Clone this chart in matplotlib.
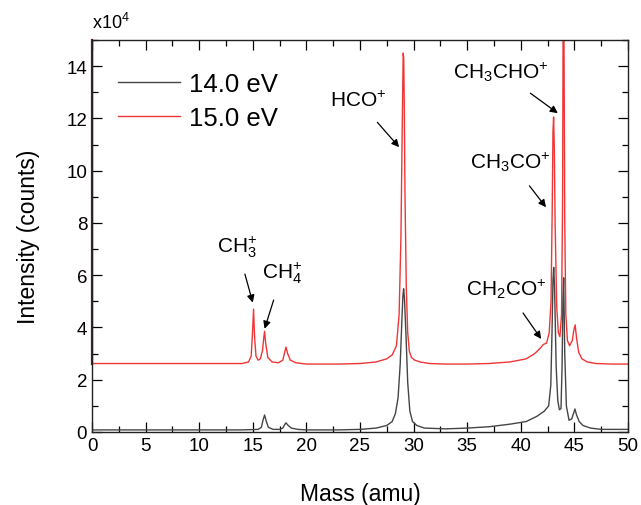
import matplotlib
matplotlib.use("Agg")
import matplotlib.pyplot as plt
from matplotlib.ticker import MultipleLocator

plt.rcParams['font.family'] = ['Liberation Sans', 'DejaVu Sans']
plt.rcParams['mathtext.fontset'] = 'custom'
plt.rcParams['mathtext.rm'] = 'Liberation Sans'
plt.rcParams['mathtext.it'] = 'Liberation Sans'
plt.rcParams['mathtext.bf'] = 'Liberation Sans'

# ---- data (intensity in units of 1e4 counts) ----
mass_14 = [0, 5, 10, 14, 15.5, 15.8, 15.95, 16.1, 16.25, 16.45,
           16.9, 17.5, 17.8, 18.0, 18.1, 18.3, 18.6, 19.2, 20, 23,
           25, 26.5, 27.5, 28.0, 28.3, 28.55, 28.75, 28.9, 29.0, 29.07,
           29.15, 29.3, 29.45, 29.65, 29.9, 30.3, 31, 33, 35, 37,
           39, 40.5, 41.5, 42.2, 42.6, 42.8, 42.92, 43.0, 43.07, 43.15,
           43.3, 43.45, 43.6, 43.75, 43.85, 43.93, 44.0, 44.1, 44.25, 44.5,
           44.75, 44.95, 45.05, 45.2, 45.45, 45.8, 46.5, 47.5, 50]
int_14 = [0.08, 0.08, 0.08, 0.08, 0.10, 0.18, 0.45, 0.65, 0.42, 0.18,
          0.10, 0.10, 0.15, 0.30, 0.35, 0.25, 0.15, 0.10, 0.08, 0.08,
          0.10, 0.15, 0.25, 0.40, 0.70, 1.30, 2.60, 4.20, 5.20, 5.48,
          5.10, 3.60, 1.90, 0.80, 0.40, 0.25, 0.15, 0.12, 0.15, 0.20,
          0.30, 0.40, 0.60, 0.80, 1.00, 1.80, 4.00, 5.80, 6.30, 5.50,
          2.50, 1.20, 0.85, 0.90, 2.50, 5.00, 5.90, 3.00, 1.00, 0.45,
          0.50, 0.75, 0.88, 0.65, 0.40, 0.25, 0.15, 0.10, 0.10]

mass_15 = [0, 5, 10, 14, 14.6, 14.85, 14.97, 15.07, 15.17, 15.3,
           15.5, 15.7, 15.9, 16.02, 16.1, 16.2, 16.4, 16.8, 17.4, 17.8,
           18.0, 18.1, 18.25, 18.5, 19.0, 20, 23, 25, 26.5, 27.5,
           28.0, 28.4, 28.65, 28.82, 28.95, 29.03, 29.08, 29.13, 29.2, 29.32,
           29.45, 29.6, 29.8, 30.1, 30.6, 31.5, 33, 35, 37, 39,
           40.5, 41.3, 41.8, 42.1, 42.4, 42.65, 42.82, 42.93, 43.0, 43.06,
           43.12, 43.2, 43.35, 43.5, 43.65, 43.8, 43.9, 43.95, 44.02, 44.1,
           44.2, 44.35, 44.55, 44.8, 44.95, 45.07, 45.2, 45.4, 45.7, 46.2,
           47, 48.5, 50]
int_15 = [2.62, 2.62, 2.62, 2.62, 2.68, 2.90, 3.80, 4.70, 3.60, 2.90,
          2.75, 2.80, 3.10, 3.60, 3.85, 3.40, 2.85, 2.68, 2.65, 2.75,
          3.10, 3.25, 3.00, 2.75, 2.65, 2.60, 2.60, 2.62, 2.68, 2.80,
          2.95, 3.30, 4.50, 7.50, 12.0, 14.5, 14.3, 12.5, 9.00, 5.50,
          3.80, 3.10, 2.85, 2.75, 2.68, 2.62, 2.60, 2.60, 2.62, 2.68,
          2.80, 3.00, 3.20, 3.35, 3.40, 3.80, 5.00, 8.50, 11.5, 12.05,
          11.0, 8.00, 4.80, 3.80, 3.65, 4.50, 9.00, 16.0, 16.0, 8.00,
          4.50, 3.50, 3.30, 3.50, 3.90, 4.10, 3.60, 3.05, 2.80, 2.68,
          2.62, 2.60, 2.60]

series_labels = ['14.0 eV', '15.0 eV']

ann_labels = [r'CH$_3^{{+}}$', r'CH$_4^{{+}}$', r'HCO$^{{+}}$',
              r'CH$_3$CHO$^{{+}}$', r'CH$_3$CO$^{{+}}$', r'CH$_2$CO$^{{+}}$']
ann_text_xy = [(13.55, 7.1), (17.75, 6.1), (24.8, 12.7),
               (38.1, 13.8), (39.05, 10.35), (38.6, 5.5)]
ann_head_xy = [(15.0, 4.95), (16.1, 3.95), (28.65, 10.9),
               (43.45, 12.2), (42.35, 8.6), (41.9, 3.56)]

# ---- figure ----
fig = plt.figure(figsize=(6.41, 5.06), dpi=100)
ax = fig.add_axes([92/641, 73/506, 536/641, 392/506])

l15, = ax.plot(mass_15, int_15, color='#f03535', lw=1.0)
l14, = ax.plot(mass_14, int_14, color='#454545', lw=1.0)

ax.set_xlim(0, 50)
ax.set_ylim(0, 15)
ax.xaxis.set_major_locator(MultipleLocator(5))
ax.xaxis.set_minor_locator(MultipleLocator(2.5))
ax.yaxis.set_major_locator(MultipleLocator(2))
ax.yaxis.set_minor_locator(MultipleLocator(1))
ax.tick_params(which='both', direction='in', top=True, right=True,
               labelsize=13.5, width=0.9)
ax.tick_params(which='major', length=7)
ax.tick_params(which='minor', length=4)
for s in ax.spines.values():
    s.set_linewidth(1.0)
    s.set_color('#222222')
ax.axvline(0, ymin=int_15[0] / 15, ymax=1, color='#6a1818', lw=1.6, clip_on=False)

ax.set_xlabel('Mass (amu)', fontsize=16.5, labelpad=20)
ax.set_ylabel('Intensity (counts)', fontsize=16.5, labelpad=19)
ax.text(0, 1.02, r'x10$^4$', transform=ax.transAxes, fontsize=13,
        ha='left', va='bottom')

ax.legend([l14, l15], series_labels, loc='upper left',
          bbox_to_anchor=(0.03, 0.945), frameon=False, fontsize=18.5,
          handlelength=2.4, handletextpad=0.35, labelspacing=0.38,
          borderaxespad=0)

for lab, txy, hxy in zip(ann_labels, ann_text_xy, ann_head_xy):
    ax.annotate(lab, xy=hxy, xytext=txy, fontsize=15, ha='center', va='center',
                arrowprops=dict(arrowstyle='-|>', color='black', lw=0.9,
                                mutation_scale=11, shrinkA=9, shrinkB=0))

fig.savefig('out.png', dpi=100)
